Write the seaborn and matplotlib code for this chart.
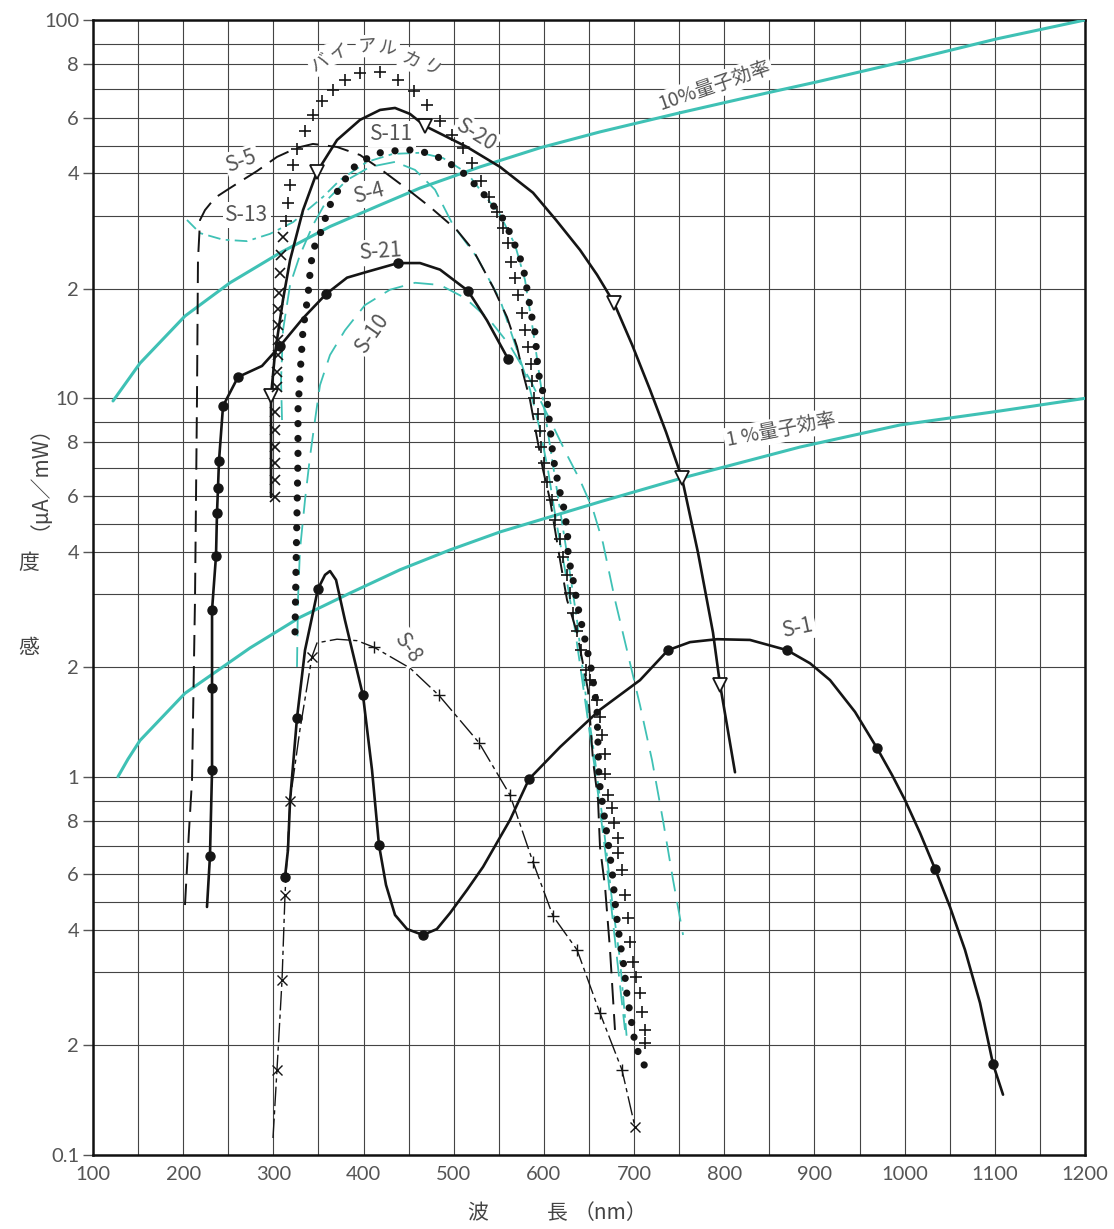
import numpy as np
import matplotlib
matplotlib.use("Agg")
import matplotlib.pyplot as plt
from matplotlib.ticker import FixedLocator, FixedFormatter, NullFormatter
import seaborn as sns

# ---------------- data: wavelength (nm) / sensitivity (uA/mW) ----------------
QE10_NM = [122.2, 152.1, 202.0, 251.9, 307.4, 362.8, 418.3, 462.6, 529.2, 595.7,
           662.2, 750.9, 847.4, 902.8, 1002.6, 1102.4, 1200.0]
QE10_VAL = [9.89, 13.2, 17.5, 20.8, 24.9, 28.5, 32.5, 36.5, 42.3, 49.2,
            54.9, 61.7, 68.7, 72.9, 81.5, 92.1, 100.0]

QE1_NM = [127.7, 138.8, 152.1, 202.0, 274.1, 329.5, 385.0, 440.4, 495.9, 551.3,
          662.2, 753.1, 884.0, 994.9, 1105.8, 1200.0]
QE1_VAL = [1.0, 1.16, 1.33, 1.76, 2.26, 2.68, 3.02, 3.57, 4.06, 4.71,
           5.79, 6.63, 7.81, 8.86, 9.47, 10.0]

S1_NM = [312.9, 316.2, 318.5, 326.2, 335.1, 349.5, 357.3, 362.8, 369.5, 379.4,
         399.4, 409.4, 417.1, 424.9, 434.9, 448.2, 465.9, 481.3, 495.9, 514.7,
         532.5, 562.4, 583.5, 617.9, 662.2, 706.6, 737.6, 762.0, 792.0, 828.5,
         869.6, 895.1, 917.3, 945.0, 969.4, 986.0, 1000.4, 1017.1, 1033.7, 1050.3,
         1066.9, 1083.6, 1098.0, 1109.1]
S1_VAL = [0.590, 0.686, 0.898, 1.535, 2.23, 3.12, 3.45, 3.54, 3.33, 2.64,
          1.74, 1.06, 0.704, 0.562, 0.454, 0.403, 0.388, 0.403, 0.461, 0.544,
          0.626, 0.803, 0.990, 1.27, 1.61, 1.88, 2.23, 2.34, 2.38, 2.37,
          2.23, 2.05, 1.88, 1.59, 1.26, 1.016, 0.902, 0.751, 0.619, 0.483,
          0.353, 0.258, 0.183, 0.155]
S1_PT_NM = [312.9, 326.2, 349.5, 399.4, 417.1, 465.9, 583.5, 737.6, 869.6, 969.4, 1033.7, 1098.0]
S1_PT_VAL = [0.590, 1.535, 3.12, 1.74, 0.704, 0.388, 0.990, 2.23, 2.23, 1.26, 0.619, 0.183]

S21_NM = [226.4, 229.7, 232.0, 232.0, 232.0, 236.4, 237.5, 238.6, 239.7, 244.2,
          260.8, 287.4, 307.4, 332.9, 358.4, 381.7, 403.8, 438.2, 462.6, 484.8,
          515.8, 536.9, 560.2]
S21_VAL = [0.483, 0.664, 1.061, 1.81, 2.78, 3.90, 5.39, 6.28, 7.26, 9.68,
           11.94, 12.95, 14.77, 17.3, 19.5, 21.5, 22.3, 23.5, 23.5, 22.6,
           19.8, 17.1, 13.6]
S21_PT_NM = [229.7, 232.0, 232.0, 232.0, 236.4, 237.5, 238.6, 239.7, 244.2,
             260.8, 307.4, 358.4, 438.2, 515.8, 560.2]
S21_PT_VAL = [0.664, 1.061, 1.81, 2.78, 3.90, 5.39, 6.28, 7.26, 9.68,
              11.94, 14.77, 19.5, 23.5, 19.8, 13.6]

S20_NM = [297.4, 297.4, 297.4, 301.8, 310.7, 318.5, 332.9, 348.4, 370.6, 396.1,
          418.3, 434.9, 451.5, 468.2, 514.7, 551.3, 587.9, 613.4, 640.0, 658.9,
          677.7, 697.7, 717.6, 735.4, 753.1, 770.9, 787.5, 795.3, 803.0, 811.9]
S20_VAL = [5.96, 8.11, 10.2, 14.1, 19.0, 23.9, 31.3, 40.5, 52.0, 59.2,
           62.7, 63.4, 61.3, 57.0, 49.5, 42.3, 35.4, 29.4, 25.3, 21.9,
           18.7, 14.9, 10.8, 8.51, 6.63, 3.97, 2.47, 1.84, 1.47, 1.04]
S20_PT_NM = [297.4, 348.4, 468.2, 677.7, 753.1, 795.3]
S20_PT_VAL = [10.2, 40.5, 57.0, 18.7, 6.63, 1.84]

S8_NM = [299.6, 304.0, 309.6, 312.9, 318.5, 329.5, 342.8, 348.4, 370.6, 392.8,
         411.6, 451.5, 483.7, 528.0, 562.4, 587.9, 610.1, 636.7, 662.2, 686.6, 701.0]
S8_VAL = [0.1155, 0.1775, 0.289, 0.526, 0.898, 1.43, 2.14, 2.33, 2.38, 2.36,
          2.27, 1.99, 1.74, 1.31, 0.923, 0.643, 0.450, 0.353, 0.244, 0.1775, 0.1255]
S8_X_NM = [304.0, 309.6, 312.9, 318.5, 342.8, 701.0]
S8_X_VAL = [0.1775, 0.289, 0.526, 0.898, 2.14, 0.1255]
S8_P_NM = [411.6, 483.7, 528.0, 562.4, 587.9, 610.1, 636.7, 662.2, 686.6]
S8_P_VAL = [2.27, 1.74, 1.31, 0.923, 0.643, 0.450, 0.353, 0.244, 0.1775]

S11_NM = [324.0, 325.1, 326.2, 327.3, 327.3, 329.5, 332.9, 338.4, 341.7, 346.2,
          352.8, 361.7, 373.9, 388.3, 400.5, 418.3, 433.8, 451.5, 470.4, 484.8,
          498.1, 514.7, 526.9, 539.1, 553.5, 562.4, 570.1, 576.8, 582.4, 585.7,
          590.1, 593.5, 596.8, 603.4, 606.8, 610.1, 616.7, 623.4, 626.7, 626.7,
          632.3, 638.9, 645.6, 653.3, 658.9, 661.1, 665.5, 671.1, 675.5, 680.0,
          684.4, 688.8, 692.1, 697.7, 701.0, 706.6, 713.2]
S11_VAL = [2.48, 3.61, 5.39, 7.42, 9.51, 12.03, 16.3, 19.4, 23.5, 26.0,
           27.8, 32.05, 36.8, 41.9, 44.8, 47.4, 48.1, 48.4, 47.4, 45.5,
           43.0, 39.4, 36.5, 33.7, 29.8, 27.6, 25.3, 23.1, 19.4, 17.8,
           16.0, 12.6, 11.0, 9.93, 8.76, 7.42, 6.28, 5.39, 4.42, 3.92,
           3.33, 2.75, 2.37, 1.95, 1.61, 0.986, 0.868, 0.715, 0.615, 0.465,
           0.371, 0.3125, 0.269, 0.228, 0.203, 0.189, 0.179]

S5_NM = [202.0, 206.5, 209.8, 213.1, 215.3, 216.4, 218.7, 224.2, 235.3, 251.9,
         281.9, 304.0, 326.2, 343.9, 370.6, 396.1, 418.3, 448.2, 473.7, 503.6,
         521.4, 543.6, 559.1, 570.2, 576.8, 584.6, 590.1, 599.0, 606.8, 617.9,
         625.6, 636.7, 648.9, 654.4, 660.0, 662.2, 667.8, 673.3, 678.8]
S5_VAL = [0.490, 0.763, 0.986, 2.92, 9.93, 23.9, 29.4, 31.3, 34.2, 36.5,
          40.8, 45.9, 49.2, 50.6, 49.5, 46.6, 41.6, 36.3, 32.05, 28.0,
          25.3, 20.2, 17.4, 14.7, 12.3, 9.93, 8.76, 6.92, 5.86, 3.80,
          2.92, 2.47, 1.79, 1.15, 0.902, 0.696, 0.555, 0.353, 0.221]

S13_NM = [204.2, 218.7, 244.2, 270.8, 296.3, 321.8, 355.0, 373.9, 403.8, 432.7,
          462.6, 488.1, 514.7, 529.2, 551.3, 568.0, 579.0, 587.9, 595.7, 602.3,
          610.1, 617.9, 626.7, 636.7, 645.6, 656.7, 666.6, 675.5, 684.4, 692.1]
S13_VAL = [29.4, 27.6, 26.7, 26.5, 27.5, 29.1, 34.4, 38.4, 44.1, 47.0,
           47.4, 45.5, 40.1, 36.1, 30.2, 26.0, 21.2, 16.2, 11.7, 9.09,
           7.10, 5.5, 3.80, 2.64, 1.79, 1.15, 0.763, 0.508, 0.329, 0.207]

S4_NM = [309.6, 308.5, 310.7, 318.5, 329.5, 343.9, 359.5, 381.7, 407.2, 434.9,
         457.1, 479.3, 499.2, 525.8, 551.3, 570.2, 584.6, 595.7, 604.5, 613.4,
         623.4, 634.5, 645.6, 656.7, 667.8, 678.8, 689.9]
S4_VAL = [9.09, 11.7, 16.2, 20.5, 24.6, 28.7, 33.7, 38.4, 42.3, 44.1,
          41.2, 36.1, 28.7, 24.3, 19.0, 14.4, 10.8, 8.61, 6.92, 5.14,
          3.57, 2.51, 1.70, 1.06, 0.686, 0.376, 0.221]

S10_NM = [326.2, 327.3, 329.5, 335.1, 340.6, 346.2, 351.7, 362.8, 379.4, 401.6,
          429.3, 457.1, 484.8, 512.5, 540.2, 562.4, 584.6, 606.8, 625.6, 640.0,
          654.5, 665.5, 678.8, 692.1, 706.6, 719.9, 732.1, 743.2, 754.3]
S10_VAL = [2.0, 2.92, 4.06, 5.86, 7.42, 9.09, 11.2, 13.95, 16.2, 18.5,
           19.9, 20.8, 20.5, 19.15, 17.1, 14.8, 11.7, 9.09, 7.50, 6.56,
           5.5, 4.31, 2.92, 2.23, 1.65, 1.15, 0.8, 0.58, 0.388]

BIALKALI_NM = [301.8, 301.8, 301.8, 301.8, 301.8, 301.8, 304.0, 304.0, 305.1, 305.1,
               305.1, 305.1, 306.3, 307.4, 308.5, 310.7, 314.0, 316.2, 318.5, 321.8,
               326.2, 335.1, 343.9, 353.9, 366.1, 379.4, 396.1, 418.3, 438.2, 456.0,
               470.4, 484.8, 498.1, 510.3, 520.3, 530.3, 539.1, 548.0, 554.6, 560.2,
               563.5, 567.9, 571.3, 575.7, 579.0, 582.4, 585.7, 586.8, 589.0, 593.5,
               595.7, 596.8, 600.1, 603.4, 609.0, 612.3, 617.9, 621.2, 625.6, 628.9,
               632.3, 636.7, 641.1, 646.7, 651.1, 658.9, 662.2, 664.4, 667.8, 667.8,
               671.1, 675.5, 677.7, 682.2, 682.2, 686.6, 689.9, 693.3, 695.5, 698.8,
               702.1, 706.6, 708.8, 712.1, 712.1]
BIALKALI_VAL = [5.96, 6.56, 7.18, 7.81, 8.61, 9.43, 11.0, 12.4, 13.95, 15.3,
                16.7, 18.1, 19.6, 22.15, 24.6, 27.1, 29.3, 33.0, 37.2, 43.0,
                48.6, 55.3, 61.0, 65.9, 69.8, 73.7, 76.4, 76.8, 73.7, 69.4,
                64.5, 58.8, 53.8, 49.2, 43.7, 38.2, 34.4, 30.9, 28.3, 26.3,
                23.7, 21.5, 19.4, 17.8, 16.2, 14.7, 13.1, 11.6, 10.0, 9.34,
                8.56, 7.81, 7.18, 6.49, 5.86, 5.14, 4.46, 3.87, 3.45, 3.02,
                2.74, 2.49, 2.23, 1.97, 1.88, 1.70, 1.54, 1.38, 1.21, 1.02,
                0.923, 0.863, 0.79, 0.731, 0.675, 0.615, 0.526, 0.443, 0.371, 0.324,
                0.294, 0.272, 0.246, 0.221, 0.203]

Y_TICKS = [0.1, 0.2, 0.4, 0.6, 0.8, 1, 2, 4, 6, 8, 10, 20, 40, 60, 80, 100]
Y_TICK_LABELS = ['0.1', '2', '4', '6', '8', '1', '2', '4', '6', '8',
                 '10', '2', '4', '6', '8', '100']
X_TICKS = list(range(100, 1201, 100))

# ---------------- style ----------------
sns.set_theme(style="white")
plt.rcParams['font.family'] = ['Lato', 'Noto Sans CJK JP', 'DejaVu Sans']

INK = '#151515'
CYAN = '#3fc1b5'
GREY_TXT = '#555555'
CJK = ['Noto Sans CJK JP', 'DejaVu Sans']

# Graph-paper ruling of the sensitivity axis: position of each minor line
# (1..10) inside one decade, as printed on the sheet.
DEC_M = np.arange(1, 11, dtype=float)
DEC_F = np.array([0.0, 0.290, 0.483, 0.595, 0.668, 0.742, 0.817, 0.884, 0.937, 1.0])


def paper_fwd(v):
    v = np.asarray(v, dtype=float)
    pos = v > 0
    lv = np.log10(np.where(pos, v, 1.0))
    k = np.floor(lv + 1e-9)
    m = np.clip(10.0 ** (lv - k), 1.0, 10.0)
    out = k + np.interp(m, DEC_M, DEC_F)
    return np.where(pos, out, -10.0)


def paper_inv(p):
    p = np.asarray(p, dtype=float)
    k = np.floor(p + 1e-9)
    m = np.interp(p - k, DEC_F, DEC_M)
    return m * 10.0 ** k


fig = plt.figure(figsize=(11.14, 12.29), dpi=100)
fig.patch.set_facecolor('white')
ax = fig.add_axes([93 / 1114, 1 - 1155 / 1229, 992 / 1114, 1135 / 1229])
ax.set_facecolor('white')


def curve(nm, val, color=INK, lw=1.6, ls='-', z=4, **kw):
    sns.lineplot(x=nm, y=val, ax=ax, sort=False, estimator=None,
                 color=color, linewidth=lw, linestyle=ls, zorder=z, **kw)


def marks(nm, val, marker, ms, face=INK, edge=INK, mew=1.0, z=6):
    sns.lineplot(x=nm, y=val, ax=ax, sort=False, estimator=None, color=edge,
                 linestyle='none', marker=marker, markersize=ms,
                 markerfacecolor=face, markeredgecolor=edge,
                 markeredgewidth=mew, zorder=z)


# quantum-efficiency reference lines
curve(QE10_NM, QE10_VAL, color=CYAN, lw=2.2, z=3.5)
curve(QE1_NM, QE1_VAL, color=CYAN, lw=2.2, z=3.5)

# cyan photocathodes
curve(S10_NM, S10_VAL, color=CYAN, lw=1.3, ls=(0, (11, 6)))
curve(S4_NM, S4_VAL, color=CYAN, lw=1.3, ls=(0, (11, 5)))
curve(S13_NM, S13_VAL, color=CYAN, lw=1.3, ls=(0, (7, 3, 2, 3)))

# black photocathodes
curve(S5_NM, S5_VAL, lw=1.4, ls=(0, (11, 5)))
curve(S8_NM, S8_VAL, lw=1.0, ls=(0, (14, 3, 3, 3)))
curve(S11_NM, S11_VAL, lw=5.2, ls=(0, (0.01, 2.05)), dash_capstyle='round')
curve(S21_NM, S21_VAL, lw=1.9)
curve(S1_NM, S1_VAL, lw=1.9)
curve(S20_NM, S20_VAL, lw=1.9)

marks(S21_PT_NM, S21_PT_VAL, 'o', 6.5)
marks(S1_PT_NM, S1_PT_VAL, 'o', 6.5)
marks(S20_PT_NM, S20_PT_VAL, 'v', 9.5, face='white', mew=1.3)
marks(S8_X_NM, S8_X_VAL, 'x', 6.5, mew=1.0)
marks(S8_P_NM, S8_P_VAL, '+', 8.5, mew=1.0)
n_cross = 16
marks(BIALKALI_NM[:n_cross], BIALKALI_VAL[:n_cross], 'x', 6.5, mew=1.2)
marks(BIALKALI_NM[n_cross:], BIALKALI_VAL[n_cross:], '+', 8.5, mew=1.2)

# ---------------- axes ----------------
ax.set_yscale('function', functions=(paper_fwd, paper_inv))
ax.set_xlim(100, 1200)
ax.set_ylim(0.1, 100)
ax.set_xlabel('')
ax.set_ylabel('')

ax.yaxis.set_major_locator(FixedLocator(Y_TICKS))
ax.yaxis.set_major_formatter(FixedFormatter(Y_TICK_LABELS))
ax.yaxis.set_minor_locator(FixedLocator(
    [m * 10.0 ** k for k in (-1, 0, 1) for m in range(1, 10)] + [100.0]))
ax.yaxis.set_minor_formatter(NullFormatter())
ax.xaxis.set_major_locator(FixedLocator(X_TICKS))
ax.xaxis.set_minor_locator(FixedLocator(list(range(150, 1200, 100))))
ax.xaxis.set_minor_formatter(NullFormatter())

ax.set_axisbelow(True)
ax.grid(True, which='both', axis='both', color='#444444', linewidth=0.8)
ax.tick_params(axis='y', which='major', length=7, width=1, color='#555',
               direction='out', pad=3, labelsize=14.5, labelcolor=GREY_TXT, left=True)
ax.tick_params(axis='y', which='minor', length=0)
ax.tick_params(axis='x', which='both', length=0, pad=8, labelsize=14.5,
               labelcolor=GREY_TXT, bottom=True)
for s in ax.spines.values():
    s.set_visible(True)
    s.set_color('#111')
    s.set_linewidth(1.8)


# ---------------- curve labels ----------------
def axpos(px, py):
    return (px - 93) / 992, (1155 - py) / 1135


def tag(px, py, text, rot=0, fs=15):
    x, y = axpos(px, py)
    ax.text(x, y, text, transform=ax.transAxes, rotation=rot, fontsize=fs,
            color=GREY_TXT, ha='center', va='center', family=CJK, zorder=3,
            rotation_mode='anchor',
            bbox=dict(facecolor='white', edgecolor='none', pad=1.5))


tag(714, 86, '10%量子効率', rot=19, fs=14)
tag(781, 430, '1 %量子効率', rot=11, fs=14)
tag(798, 628, 'S-1', rot=12)
tag(408, 648, 'S-8', rot=-55)
tag(372, 333, 'S-10', rot=55)
tag(381, 252, 'S-21', rot=4)
tag(370, 193, 'S-4', rot=15)
tag(392, 134, 'S-11')
tag(247, 215, 'S-13')
tag(242, 161, 'S-5', rot=20)
tag(476, 135, 'S-20', rot=-32)
for ch, px, py, r in zip('バイアルカリ',
                         [320, 338, 367, 388, 411, 430],
                         [63, 52, 46, 48, 60, 70],
                         [30, 18, 4, -10, -25, -40]):
    tag(px, py, ch, rot=r, fs=13)

# ---------------- axis titles ----------------
def ftxt(px, py, s, rot=0, fs=15):
    fig.text(px / 1114, 1 - py / 1229, s, ha='center', va='center',
             rotation=rot, fontsize=fs, color='#444', family=CJK)


ftxt(478, 1213, '波')
ftxt(557, 1213, '長')
ftxt(610, 1213, '（nm）')
ftxt(29, 648, '感')
ftxt(29, 563, '度')
ftxt(29, 467, '（μA／mW）', rot=90)

fig.savefig('out.png', dpi=100, facecolor='white')
